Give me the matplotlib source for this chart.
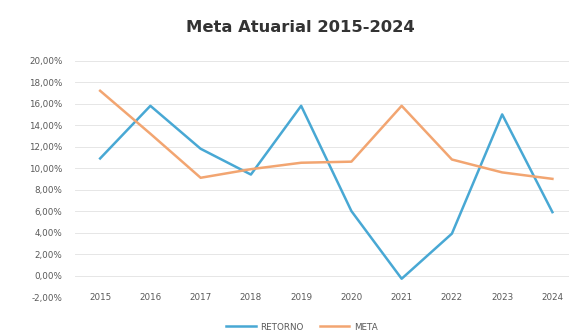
import matplotlib

matplotlib.use("Agg")
import matplotlib.pyplot as plt
from matplotlib.ticker import FuncFormatter

years = ["2015", "2016", "2017", "2018", "2019", "2020", "2021", "2022", "2023", "2024"]
retorno = [10.9, 15.8, 11.8, 9.4, 15.8, 6.0, -0.3, 3.9, 15.0, 5.9]
meta = [17.2, 13.2, 9.1, 9.9, 10.5, 10.6, 15.8, 10.8, 9.6, 9.0]
y_ticks = [-2, 0, 2, 4, 6, 8, 10, 12, 14, 16, 18, 20]

BLUE = "#48A8D4"
ORANGE = "#F2A571"
GREY = "#595959"

fig = plt.figure(figsize=(5.69, 3.33), dpi=100)
ax = fig.add_axes([75 / 569, 1 - 297 / 333, (569 - 75) / 569, (297 - 60.7) / 333])

x = list(range(len(years)))
ax.plot(x, retorno, color=BLUE, linewidth=1.8, label="RETORNO")
ax.plot(x, meta, color=ORANGE, linewidth=1.8, label="META")

ax.set_xlim(-0.5, 9.33)
ax.set_ylim(-2, 20)
ax.set_yticks(y_ticks)
ax.yaxis.set_major_formatter(FuncFormatter(lambda v, _: f"{v:.2f}%".replace(".", ",")))
ax.set_xticks(x)
ax.set_xticklabels(years)
ax.grid(axis="y", color="#E6E6E6", linewidth=0.7)
ax.set_axisbelow(True)
for side in ax.spines.values():
    side.set_visible(False)
ax.tick_params(axis="y", length=0, pad=9, labelsize=6.3, labelcolor=GREY)
ax.tick_params(axis="x", length=0, pad=-3, labelsize=6.3, labelcolor=GREY)

fig.text(300 / 569, 1 - 27 / 333, "Meta Atuarial 2015-2024", ha="center", va="center",
         fontsize=11.8, fontweight="bold", color="#333333")
fig.legend(loc="center", bbox_to_anchor=(302 / 569, 1 - 327 / 333), ncol=2, frameon=False,
           fontsize=6.3, labelcolor=GREY, handlelength=3.4, columnspacing=1.8, handletextpad=0.5)

fig.savefig("out.png", dpi=100)
